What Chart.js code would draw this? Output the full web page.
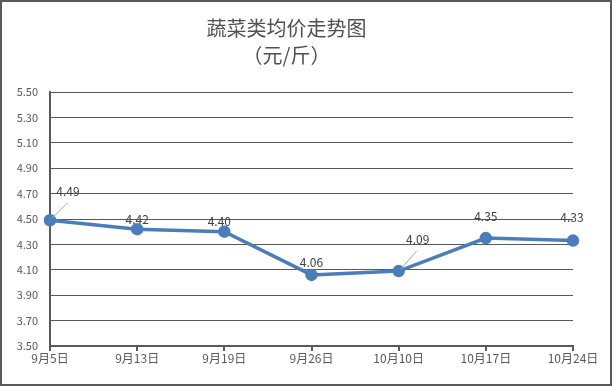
<!DOCTYPE html>
<html>
<head>
<meta charset="utf-8">
<script src="https://cdn.jsdelivr.net/npm/chart.js@4"></script>
<style>
  html, body { margin: 0; padding: 0; background: #fff; }
  #wrap { width: 612px; height: 386px; }
</style>
</head>
<body>
<div id="wrap"><canvas id="myChart" width="612" height="386"></canvas></div>
<script>
const ctx = document.getElementById("myChart");

var xValues = ["9月5日", "9月13日", "9月19日", "9月26日", "10月10日", "10月17日", "10月24日"];
var yValues = [4.49, 4.42, 4.40, 4.06, 4.09, 4.35, 4.33];
var titleLines = ["蔬菜类均价走势图", "（元/斤）"];
var lineColor = "#4A7EBB";
var textColor = "#595959";

// where each value label sits relative to its point, and which ones get a leader line
var labelOffsets = [[18, -29], [0, -10], [-5, -10], [0, -12], [19, -32], [0, -22], [-1, -23]];
var leaderLines = [true, false, false, false, true, false, false];

const valueLabels = {
    id: "valueLabels",
    afterDatasetsDraw(chart) {
        const c = chart.ctx;
        const meta = chart.getDatasetMeta(0);
        c.save();
        c.font = "12px 'Noto Sans CJK SC', sans-serif";
        c.fillStyle = "#404040";
        c.textAlign = "center";
        c.textBaseline = "middle";
        meta.data.forEach((pt, i) => {
            const lx = pt.x + labelOffsets[i][0];
            const ly = pt.y + labelOffsets[i][1];
            if (leaderLines[i]) {
                c.strokeStyle = "#A6A6A6";
                c.lineWidth = 1;
                c.beginPath();
                c.moveTo(pt.x + 2, pt.y - 2);
                c.lineTo(lx - 1, ly + 12);
                c.stroke();
            }
            c.fillText(yValues[i].toFixed(2), lx, ly);
        });
        c.restore();
    },
    afterDraw(chart) {
        const c = chart.ctx;
        c.save();
        c.strokeStyle = "#595959";
        c.lineWidth = 2;
        c.strokeRect(1, 1, chart.width - 2, chart.height - 2);
        c.restore();
    },
};

new Chart(ctx, {
    type: "line",
    data: {
        labels: xValues,
        datasets: [
            {
                data: yValues,
                borderColor: lineColor,
                backgroundColor: lineColor,
                borderWidth: 3.5,
                pointRadius: 4.5,
                pointHoverRadius: 4.5,
                tension: 0,
            },
        ],
    },
    options: {
        responsive: false,
        animation: false,
        layout: {
            padding: { left: 0, right: 39, top: 0, bottom: 16 },
        },
        plugins: {
            legend: { display: false },
            tooltip: { enabled: false },
            title: {
                display: true,
                text: titleLines,
                color: "#505050",
                font: { size: 20, family: "'Noto Sans CJK SC', sans-serif", weight: "normal", lineHeight: 1.35 },
                padding: { top: 15, bottom: 23 },
            },
        },
        scales: {
            x: {
                offset: false,
                grid: {
                    drawOnChartArea: false,
                    drawTicks: true,
                    tickLength: 5,
                    color: "#595959",
                    lineWidth: 2,
                },
                border: { color: "#595959", width: 2 },
                ticks: {
                    color: textColor,
                    padding: 0,
                    maxRotation: 0,
                    autoSkip: false,
                    font: { size: 12, family: "'Noto Sans CJK SC', sans-serif" },
                },
                afterFit(scale) { scale.height = 24; },
            },
            y: {
                min: 3.5,
                max: 5.5,
                grid: { color: "#595959", lineWidth: 1, drawTicks: false },
                border: { color: "#595959", width: 2 },
                ticks: {
                    stepSize: 0.2,
                    color: textColor,
                    padding: 12,
                    font: { size: 11, family: "'Noto Sans CJK SC', sans-serif" },
                    callback: (v) => v.toFixed(2),
                },
                afterFit(scale) { scale.width = 50; },
            },
        },
    },
    plugins: [valueLabels],
});
</script>
</body>
</html>
